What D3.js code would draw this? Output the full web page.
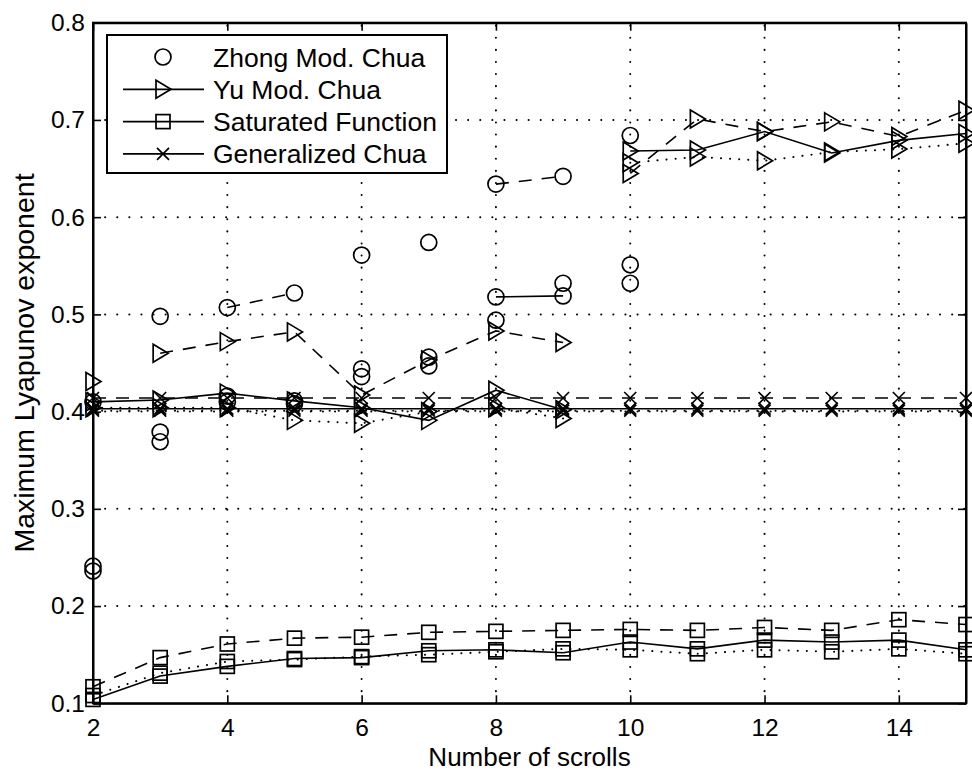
<!DOCTYPE html>
<html>
<head>
<meta charset="utf-8">
<script src="https://cdn.jsdelivr.net/npm/d3@7"></script>
<style>
  body { margin: 0; background: #fff; }
  text { font-family: "Liberation Sans", Arial, sans-serif; fill: #000; }
</style>
</head>
<body>
<div id="chart"></div>
<script>
// datos
const scrolls = [2, 3, 4, 5, 6, 7, 8, 9, 10, 11, 12, 13, 14, 15]
const xTicks = [2, 4, 6, 8, 10, 12, 14]
const yTicks = [0.1, 0.2, 0.3, 0.4, 0.5, 0.6, 0.7, 0.8]
const legendLabels = ["Zhong Mod. Chua", "Yu Mod. Chua", "Saturated Function", "Generalized Chua"]

// Zhong Mod. Chua (solo marcadores, con algunos tramos unidos)
const zhongA = [0.241, 0.498, 0.507, 0.522, 0.561, 0.574, 0.634, 0.642, 0.684, null, null, null, null, null]
const zhongB = [0.236, 0.379, 0.416, 0.411, 0.444, 0.456, 0.518, 0.519, 0.551, null, null, null, null, null]
const zhongC = [0.410, 0.369, 0.410, 0.408, 0.436, 0.447, 0.494, 0.532, 0.532, null, null, null, null, null]
const zhongARuns = [[4, 5], [8, 9]]
const zhongBRuns = [[8, 9]]

// Yu Mod. Chua
const yuDashed = [null, 0.460, 0.472, 0.482, 0.417, 0.453, 0.483, 0.471, 0.645, 0.701, 0.688, 0.698, 0.683, 0.710]
const yuSolid  = [0.410, 0.412, 0.419, 0.411, 0.404, 0.391, 0.422, 0.402, 0.668, 0.669, 0.688, 0.666, 0.679, 0.686]
const yuDotted = [0.404, 0.404, 0.404, 0.391, 0.388, 0.400, 0.404, 0.393, 0.656, 0.662, 0.658, 0.667, 0.670, 0.676]
const yuLoose  = [0.431, null, null, null, null, null, null, null, null, null, null, null, null, null]
const yuDashedRuns = [[3, 9], [10, 15]]
const yuRuns = [[2, 9], [10, 15]]

// Saturated Function
const satDashed = [0.117, 0.147, 0.161, 0.167, 0.168, 0.173, 0.174, 0.175, 0.176, 0.175, 0.178, 0.175, 0.186, 0.181]
const satSolid  = [0.104, 0.128, 0.138, 0.146, 0.147, 0.154, 0.155, 0.152, 0.163, 0.156, 0.165, 0.163, 0.165, 0.155]
const satDotted = [0.108, 0.131, 0.143, 0.145, 0.148, 0.150, 0.153, 0.156, 0.155, 0.151, 0.155, 0.153, 0.156, 0.151]

// Generalized Chua
const genDashed = [0.414, 0.414, 0.414, 0.414, 0.414, 0.414, 0.414, 0.414, 0.414, 0.414, 0.414, 0.414, 0.414, 0.414]
const genSolid  = [0.403, 0.403, 0.403, 0.403, 0.403, 0.403, 0.403, 0.403, 0.403, 0.403, 0.403, 0.403, 0.403, 0.403]
const genDotted = [0.401, 0.401, 0.401, 0.401, 0.401, 0.401, 0.401, 0.401, 0.401, 0.401, 0.401, 0.401, 0.401, 0.401]
const fullRuns = [[2, 15]]

// constantes de dibujo
const ancho = 972
const alto = 771
const margen = { superior: 22.7, inferior: 67.7, izquierdo: 93, derecho: 6 }
const dashes = { solid: null, dashed: "13,10", dotted: "0.1,9" }

const series = [
  { vals: genDotted, marker: "x", line: "dotted", runs: fullRuns },
  { vals: genSolid, marker: "x", line: "solid", runs: fullRuns },
  { vals: genDashed, marker: "x", line: "dashed", runs: fullRuns },
  { vals: satDotted, marker: "square", line: "dotted", runs: fullRuns },
  { vals: satSolid, marker: "square", line: "solid", runs: fullRuns },
  { vals: satDashed, marker: "square", line: "dashed", runs: fullRuns },
  { vals: yuDotted, marker: "triangle", line: "dotted", runs: yuRuns },
  { vals: yuSolid, marker: "triangle", line: "solid", runs: yuRuns },
  { vals: yuDashed, marker: "triangle", line: "dashed", runs: yuDashedRuns },
  { vals: yuLoose, marker: "triangle", line: "solid", runs: [] },
  { vals: zhongC, marker: "circle", line: "solid", runs: [] },
  { vals: zhongB, marker: "circle", line: "solid", runs: zhongBRuns },
  { vals: zhongA, marker: "circle", line: "dashed", runs: zhongARuns }
]

const svg = d3.select("#chart").append("svg").attr("width", ancho).attr("height", alto)
svg.append("rect").attr("width", ancho).attr("height", alto).attr("fill", "#fff")

const x = d3.scaleLinear().domain([2, 15]).range([margen.izquierdo, ancho - margen.derecho])
const y = d3.scaleLinear().domain([0.1, 0.8]).range([alto - margen.inferior, margen.superior])
const x0 = x.range()[0], x1 = x.range()[1], y0 = y.range()[0], y1 = y.range()[1]

// rejilla punteada
const grid = svg.append("g").attr("stroke", "#000").attr("stroke-width", 2)
  .attr("stroke-linecap", "round").attr("stroke-dasharray", "0.1,12")
grid.selectAll(".gx").data(xTicks.filter(t => t > 2)).enter().append("line")
  .attr("x1", d => x(d)).attr("x2", d => x(d)).attr("y1", y0).attr("y2", y1)
grid.selectAll(".gy").data(yTicks.filter(t => t > 0.1 && t < 0.8)).enter().append("line")
  .attr("x1", x0).attr("x2", x1).attr("y1", d => y(d)).attr("y2", d => y(d))

// marcadores
function drawMarker(g, type, cx, cy) {
  if (type === "circle") {
    g.append("circle").attr("cx", cx).attr("cy", cy).attr("r", 8)
  } else if (type === "triangle") {
    g.append("path").attr("d", `M${cx - 7},${cy - 9}L${cx + 8},${cy}L${cx - 7},${cy + 9}Z`)
  } else if (type === "square") {
    g.append("rect").attr("x", cx - 7).attr("y", cy - 7).attr("width", 14).attr("height", 14)
  } else if (type === "x") {
    g.append("path").attr("d", `M${cx - 6},${cy - 6}L${cx + 6},${cy + 6}M${cx - 6},${cy + 6}L${cx + 6},${cy - 6}`)
  }
}

const linea = d3.line().x(d => x(d.s)).y(d => y(d.v))
const grupoSeries = svg.append("g").attr("fill", "none").attr("stroke", "#000")

series.forEach(se => {
  const pts = scrolls.map((s, i) => ({ s: s, v: se.vals[i] })).filter(d => d.v !== null)
  se.runs.forEach(r => {
    const tramo = pts.filter(d => d.s >= r[0] && d.s <= r[1])
    grupoSeries.append("path").attr("d", linea(tramo))
      .attr("stroke-width", se.line === "dotted" ? 2 : 1.6)
      .attr("stroke-linecap", se.line === "dotted" ? "round" : "butt")
      .attr("stroke-dasharray", dashes[se.line])
  })
  const gm = grupoSeries.append("g").attr("stroke-width", 1.7)
  pts.forEach(d => drawMarker(gm, se.marker, x(d.s), y(d.v)))
})

// ejes
const grupoEjes = svg.append("g")
const ejeX = d3.axisBottom(x).tickValues(xTicks).tickSize(-8).tickSizeOuter(0).tickPadding(15)
const ejeY = d3.axisLeft(y).tickValues(yTicks).tickSize(-8).tickSizeOuter(0).tickPadding(8).tickFormat(d3.format(".1f"))
const ejeXTop = d3.axisTop(x).tickValues(xTicks).tickSize(-8).tickSizeOuter(0).tickFormat("")
const ejeYRight = d3.axisRight(y).tickValues(yTicks).tickSize(-8).tickSizeOuter(0).tickFormat("")

grupoEjes.append("g").attr("transform", `translate(0,${y0})`).call(ejeX)
grupoEjes.append("g").attr("transform", `translate(${x0},0)`).call(ejeY)
grupoEjes.append("g").attr("transform", `translate(0,${y1})`).call(ejeXTop)
grupoEjes.append("g").attr("transform", `translate(${x1},0)`).call(ejeYRight)
grupoEjes.selectAll("path.domain").attr("stroke", "#000").attr("stroke-width", 2)
grupoEjes.selectAll(".tick line").attr("stroke", "#000").attr("stroke-width", 1.6)
grupoEjes.selectAll(".tick text").attr("font-size", 24.5).attr("fill", "#000")
  .attr("font-family", '"Liberation Sans", Arial, sans-serif')
svg.append("rect").attr("x", x0).attr("y", y1).attr("width", x1 - x0).attr("height", y0 - y1)
  .attr("fill", "none").attr("stroke", "#000").attr("stroke-width", 2)

// titulos
svg.append("text").attr("x", (x0 + x1) / 2).attr("y", 766).attr("text-anchor", "middle")
  .attr("font-size", 26).text("Number of scrolls")
svg.append("text").attr("transform", `translate(34,${(y0 + y1) / 2}) rotate(-90)`)
  .attr("text-anchor", "middle").attr("font-size", 28.5).text("Maximum Lyapunov exponent")

// leyenda
const leyenda = svg.append("g")
leyenda.append("rect").attr("x", 107).attr("y", 35).attr("width", 340).attr("height", 138)
  .attr("fill", "#fff").attr("stroke", "#000").attr("stroke-width", 2)
const legendMarkers = ["circle", "triangle", "square", "x"]
legendLabels.forEach((lab, i) => {
  const ry = 57 + i * 32.3
  const gl = leyenda.append("g").attr("fill", "none").attr("stroke", "#000").attr("stroke-width", 1.7)
  if (i > 0) gl.append("line").attr("x1", 123).attr("x2", 204).attr("y1", ry).attr("y2", ry)
  drawMarker(gl, legendMarkers[i], 163, ry)
  leyenda.append("text").attr("x", 213).attr("y", ry + 9.5).attr("font-size", 26.5).text(lab)
})
</script>
</body>
</html>
